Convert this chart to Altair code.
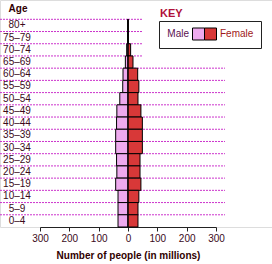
import altair as alt
import pandas as pd

ages = ["80+", "75–79", "70–74", "65–69", "60–64", "55–59", "50–54", "45–49",
        "40–44", "35–39", "30–34", "25–29", "20–24", "15–19", "10–14", "5–9", "0–4"]
male = [0.5, 1, 4.5, 9, 17, 18, 28, 38, 39, 42, 42, 39, 38, 42, 34, 34, 34]
female = [0.5, 1, 9, 17, 33, 37, 34, 44, 49, 49, 49, 41, 41, 44, 37, 34, 34]
ticks = [-300, -200, -100, 0, 100, 200, 300]
sexes = ["Male", "Female"]
colors = ["#eeaaee", "#d83838"]

FONT = "Liberation Sans"
TXT = "#3a0a1a"

rows = []
for i, a in enumerate(ages):
    rows.append({"age": a, "idx": i, "idx2": i + 1, "sex": "Male", "start": -male[i], "end": 0})
    rows.append({"age": a, "idx": i, "idx2": i + 1, "sex": "Female", "start": 0, "end": female[i]})
bars_df = pd.DataFrame(rows)
labels_df = pd.DataFrame({"age": ages, "mid": [i + 0.5 for i in range(len(ages))]})
grid_df = pd.DataFrame({"idx": list(range(len(ages)))})
grid_top = grid_df[grid_df.idx < 4]
grid_rest = grid_df[grid_df.idx >= 4]

xscale = alt.Scale(domain=[-300, 300], range=[40, 216], nice=False, zero=False)
yscale = alt.Scale(domain=[0, len(ages)], range=[19.3, 227], nice=False, zero=False)
xaxis = alt.Axis(values=ticks, labelExpr="abs(datum.value)", title="Number of people (in millions)",
                 grid=False, domainColor="#222222", tickColor="#222222", tickSize=4,
                 labelFontSize=10, labelFont=FONT, labelColor=TXT, labelPadding=2,
                 labelFlush=False, labelOverlap=False,
                 titleFont=FONT, titleFontSize=10, titleFontWeight="bold", titleColor="#300000",
                 titlePadding=7, orient="bottom")
Y = lambda f: alt.Y(f, scale=yscale, axis=None)

grid_style = dict(color="#cc33cc", strokeWidth=1, strokeDash=[2, 1])
grid_left = alt.Chart(grid_df).mark_rule(**grid_style).encode(
    y=Y("idx:Q"), x=alt.value(0), x2=alt.value(128))
grid_r1 = alt.Chart(grid_top).mark_rule(**grid_style).encode(
    y=Y("idx:Q"), x=alt.value(128), x2=alt.value(143))
grid_r2 = alt.Chart(grid_rest).mark_rule(**grid_style).encode(
    y=Y("idx:Q"), x=alt.value(128), x2=alt.value(225))

bars = alt.Chart(bars_df).mark_rect(stroke="black", strokeWidth=1).encode(
    x=alt.X("start:Q", scale=xscale, axis=xaxis),
    x2="end:Q",
    y=Y("idx:Q"), y2="idx2:Q",
    color=alt.Color("sex:N", scale=alt.Scale(domain=sexes, range=colors), legend=None),
)

zero = alt.Chart(pd.DataFrame({"x": [0], "y": [0], "y2": [len(ages)]})).mark_rule(
    color="black", strokeWidth=1).encode(
    x=alt.X("x:Q", scale=xscale, axis=xaxis), y=Y("y:Q"), y2="y2:Q")

row_labels = alt.Chart(labels_df).mark_text(
    font=FONT, fontSize=10, color=TXT, align="center", baseline="middle").encode(
    y=Y("mid:Q"), x=alt.value(17), text="age:N")

age_title = alt.Chart(pd.DataFrame({"t": ["Age"]})).mark_text(
    font=FONT, fontSize=10, fontWeight="bold", color="#300000", align="center", baseline="middle").encode(
    x=alt.value(18), y=alt.value(9), text="t:N")

# Key
key_title = alt.Chart(pd.DataFrame({"t": ["KEY"]})).mark_text(
    font=FONT, fontSize=11, fontWeight="bold", color="#b0103a", align="left", baseline="middle").encode(
    x=alt.value(160), y=alt.value(14), text="t:N")
key_box = alt.Chart(pd.DataFrame({"k": [0]})).mark_rect(
    fill="white", stroke="#222222", strokeWidth=1).encode(
    x=alt.value(159.5), x2=alt.value(261.5), y=alt.value(21.5), y2=alt.value(48.5))
sw_df = pd.DataFrame({"sex": sexes})
sw_m = alt.Chart(sw_df[sw_df.sex == "Male"]).mark_rect(stroke="black", strokeWidth=1).encode(
    x=alt.value(192.5), x2=alt.value(204.5), y=alt.value(28), y2=alt.value(40),
    color=alt.Color("sex:N", scale=alt.Scale(domain=sexes, range=colors), legend=None))
sw_f = alt.Chart(sw_df[sw_df.sex == "Female"]).mark_rect(stroke="black", strokeWidth=1).encode(
    x=alt.value(204.5), x2=alt.value(216.5), y=alt.value(28), y2=alt.value(40),
    color=alt.Color("sex:N", scale=alt.Scale(domain=sexes, range=colors), legend=None))
key_male = alt.Chart(pd.DataFrame({"t": ["Male"]})).mark_text(
    font=FONT, fontSize=10, color="#5a1050", align="right", baseline="middle").encode(
    x=alt.value(189), y=alt.value(34), text="t:N")
key_female = alt.Chart(pd.DataFrame({"t": ["Female"]})).mark_text(
    font=FONT, fontSize=10, color="#a01818", align="left", baseline="middle").encode(
    x=alt.value(220), y=alt.value(34), text="t:N")

chart = alt.layer(
    grid_left, grid_r1, grid_r2, bars, zero, row_labels, age_title,
    key_title, key_box, sw_m, sw_f, key_male, key_female
).properties(
    width=272, height=227,
    autosize=alt.AutoSizeParams(type="none"),
    padding={"left": 0, "top": 0, "right": 0, "bottom": 37},
).configure_view(stroke=None).configure(background="white")

chart.save("out.html", embed_options={"renderer": "svg", "actions": False})
